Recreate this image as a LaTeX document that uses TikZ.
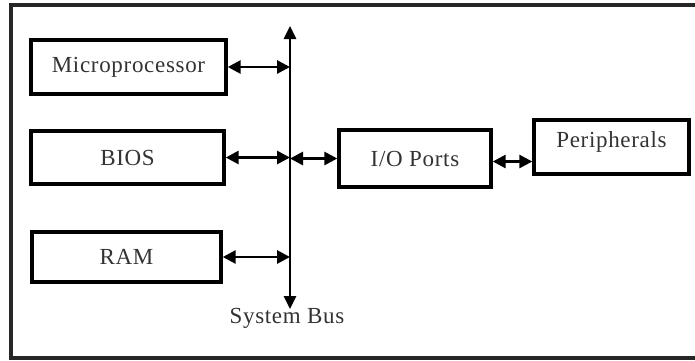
\documentclass[tikz,border=0pt]{standalone}
\usepackage{fontspec}
\setmainfont{Liberation Serif}[LetterSpace=3]
\usetikzlibrary{arrows.meta}
\begin{document}
\begin{tikzpicture}[x=1pt,y=-1pt,
  blk/.style={draw, line width=3.4pt, minimum width=#1, inner sep=0pt,
    font=\fontsize{23}{26}\selectfont, text=black!80},
  tip/.style={Triangle[length=13pt,width=13pt]},
  conn/.style={line width=2.8pt, {Triangle[length=13pt,width=13pt]}-{Triangle[length=13pt,width=13pt]}}
]
\useasboundingbox (0,0) rectangle (695,360);
\clip (0,0) rectangle (695,360);
\fill[white] (0,0) rectangle (695,360);
\draw[line width=3.2pt, black!85] (11,5) rectangle (720,358);

\node[blk=195pt, minimum height=54pt] (micro) at (128.5,67) {Microprocessor};
\node[blk=193pt, minimum height=53pt] (bios) at (127.5,157.5) {BIOS};
\node[blk=189pt, minimum height=50pt] (ram) at (126.5,257) {RAM};
\node[blk=152pt, minimum height=57pt] (io) at (415,158.5) {I/O Ports};
\node[blk=155pt, minimum height=54pt, text depth=12pt, text height=12pt] (peri) at (611.5,147) {Peripherals};

\coordinate (bustop) at (290,26);
\coordinate (busbot) at (290,309);
\node[font=\fontsize{23}{26}\selectfont, text=black!80, anchor=north, inner sep=0pt] (buslbl) at (287,308) {System Bus};

\draw[line width=2.8pt, {Triangle[length=13pt,width=12pt]}-{Triangle[length=13pt,width=12pt]}] (bustop) -- (busbot);

\draw[conn] (micro.east) -- (micro.east -| bustop);
\draw[conn] (bios.east) -- (bios.east -| bustop);
\draw[conn] (ram.east) -- (ram.east -| bustop);
\draw[conn] (io.west -| bustop) -- (io.west);
\draw[conn] ([yshift=-3pt]io.east) -- ([yshift=-3pt]io.east -| peri.west);
\end{tikzpicture}
\end{document}
